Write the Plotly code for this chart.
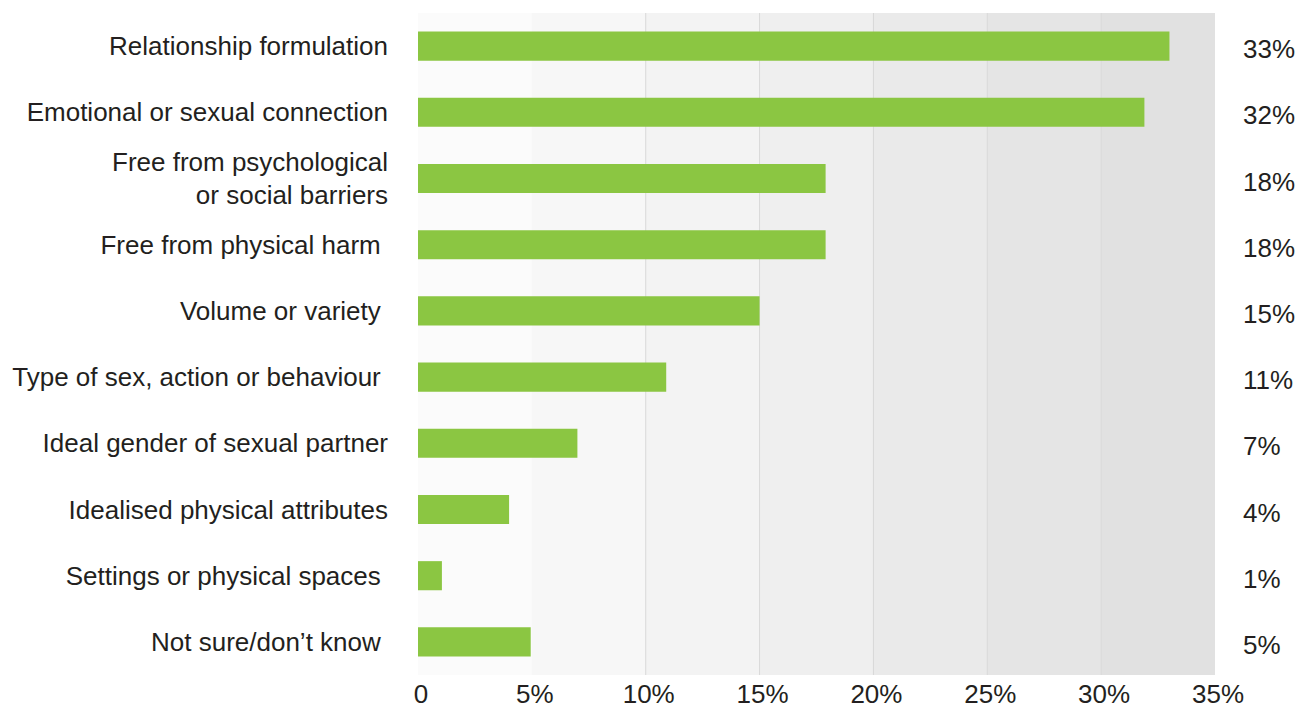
import plotly.graph_objects as go

categories = [
    "Relationship formulation",
    "Emotional or sexual connection",
    "Free from psychological<br>or social barriers",
    "Free from physical harm ",
    "Volume or variety ",
    "Type of sex, action or behaviour ",
    "Ideal gender of sexual partner",
    "Idealised physical attributes",
    "Settings or physical spaces ",
    "Not sure/don\u2019t know ",
]
values = [33.0, 31.9, 17.9, 17.9, 15.0, 10.9, 7.0, 4.0, 1.05, 4.95]
value_labels = ["33%", "32%", "18%", "18%", "15%", "11%", "7%", "4%", "1%", "5%"]
tick_vals = [0, 5, 10, 15, 20, 25, 30, 35]
tick_text = ["0", "5%", "10%", "15%", "20%", "25%", "30%", "35%"]
band_colors = ["#fbfbfb", "#f7f7f7", "#f3f3f3", "#efefef", "#eaeaea", "#e5e5e5", "#e1e1e1"]

FONT = "Liberation Sans, Arial, sans-serif"
TXT = "#231f20"
FS = 26

fig = go.Figure()
fig.add_trace(go.Bar(
    x=values, y=categories, orientation="h",
    marker=dict(color="#8bc642", line=dict(width=0)),
    width=0.44, hoverinfo="skip",
))

shapes = []
for i, c in enumerate(band_colors):
    shapes.append(dict(type="rect", xref="x", yref="paper",
                       x0=tick_vals[i], x1=tick_vals[i + 1], y0=0, y1=1,
                       fillcolor=c, line=dict(width=0), layer="below"))
for v in tick_vals[2:-1]:
    shapes.append(dict(type="line", xref="x", yref="paper", x0=v, x1=v, y0=0, y1=1,
                       line=dict(color="#d8d8d8", width=1), layer="below"))

annotations = []
for cat, lab in zip(categories, value_labels):
    annotations.append(dict(x=1, xref="paper", y=cat, yref="y", text=lab,
                            showarrow=False, xanchor="left", yanchor="middle",
                            xshift=26, yshift=-3,
                            font=dict(family=FONT, size=FS, color=TXT)))

fig.update_layout(
    width=1304, height=709,
    margin=dict(l=410, r=97, t=5, b=42),
    paper_bgcolor="white", plot_bgcolor="white",
    showlegend=False,
    shapes=shapes, annotations=annotations,
    font=dict(family=FONT, size=FS, color=TXT),
)
fig.update_xaxes(range=[0, 35], tickvals=tick_vals, ticktext=tick_text,
                 showgrid=False, zeroline=False, showline=False,
                 ticks="", ticklabelstandoff=1, ticklabelshift=3,
                 tickfont=dict(family=FONT, size=FS, color=TXT), fixedrange=True)
fig.update_yaxes(categoryorder="array", categoryarray=categories, autorange="reversed",
                 showgrid=False, zeroline=False, showline=False, ticks="",
                 ticklabelstandoff=29,
                 tickfont=dict(family=FONT, size=FS, color=TXT), fixedrange=True)

fig.write_html("out.html", config={"displayModeBar": False})
